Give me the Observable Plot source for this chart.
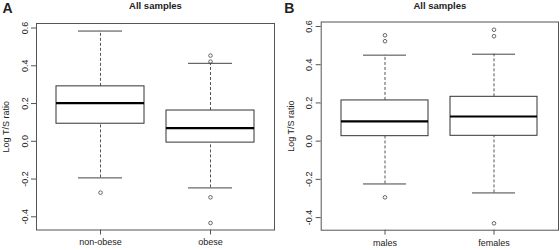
<!DOCTYPE html>
<html>
<head>
<meta charset="utf-8">
<script src="https://cdn.jsdelivr.net/npm/d3@7"></script>
<script src="https://cdn.jsdelivr.net/npm/@observablehq/plot@0.6"></script>
<style>
  html, body { margin: 0; padding: 0; background: #fff; }
  #wrap { position: relative; width: 560px; height: 250px; overflow: hidden; }
  #wrap > div { position: absolute; top: 0; }
  #pa { left: 0; } #pb { left: 280px; }
</style>
</head>
<body>
<div id="wrap"><div id="pa"></div><div id="pb"></div></div>
<script>
// ---- Panel A data (boxplot statistics, Log T/S ratio) ----
const catsA   = ["non-obese", "obese"];
const lowA    = [-0.194, -0.247];
const q1A     = [0.093, -0.007];
const medA    = [0.202, 0.070];
const q3A     = [0.291, 0.163];
const highA   = [0.584, 0.413];
const outCatA = ["non-obese", "obese", "obese", "obese", "obese"];
const outValA = [-0.272, 0.454, 0.422, -0.297, -0.433];

// ---- Panel B data ----
const catsB   = ["males", "females"];
const lowB    = [-0.224, -0.271];
const q1B     = [0.026, 0.028];
const medB    = [0.103, 0.129];
const q3B     = [0.213, 0.232];
const highB   = [0.450, 0.455];
const outCatB = ["males", "males", "males", "females", "females", "females"];
const outValB = [0.554, 0.523, -0.294, 0.583, 0.549, -0.430];

const yTicks = [-0.4, -0.2, 0.0, 0.2, 0.4, 0.6];
const titleText = "All samples";
const yLabel = "Log T/S ratio";

function panel(o) {
  const stats = o.cats.map((c, i) => ({cat: c, lo: o.lo[i], q1: o.q1[i], med: o.med[i], q3: o.q3[i], hi: o.hi[i]}));
  const outs = o.outCat.map((c, i) => ({cat: c, v: o.outVal[i]}));
  return Plot.plot({
    width: 280, height: 250,
    marginLeft: o.m[0], marginRight: o.m[1], marginTop: o.m[2], marginBottom: o.m[3],
    style: {fontFamily: "'Liberation Sans', Arial, Helvetica, sans-serif", fontSize: "9px", background: "#fff", color: "#222"},
    x: {type: "band", domain: o.cats, paddingInner: 0.2, paddingOuter: 0.18},
    y: {domain: o.domain},
    marks: [
      Plot.ruleX(stats, {x: "cat", y1: "q3", y2: "hi", stroke: "#555", strokeDasharray: "3,2"}),
      Plot.ruleX(stats, {x: "cat", y1: "lo", y2: "q1", stroke: "#555", strokeDasharray: "3,2"}),
      Plot.tickY(stats, {x: "cat", y: "hi", insetLeft: 22, insetRight: 22, stroke: "#444"}),
      Plot.tickY(stats, {x: "cat", y: "lo", insetLeft: 22, insetRight: 22, stroke: "#444"}),
      Plot.barY(stats, {x: "cat", y1: "q1", y2: "q3", fill: "#fff", stroke: "#333"}),
      Plot.tickY(stats, {x: "cat", y: "med", stroke: "#000", strokeWidth: 2.2}),
      Plot.dot(outs, {x: "cat", y: "v", r: 1.8, stroke: "#444", fill: "none", strokeWidth: 0.8}),
      Plot.frame({stroke: "#555"}),
      Plot.axisX({tickSize: 5, tickPadding: 4, fontSize: 9, label: null, stroke: "#555"}),
      Plot.axisY({ticks: yTicks, tickSize: 5, tickPadding: 4, tickFormat: d => d.toFixed(1), tickRotate: -90,
                  textAnchor: "middle", lineAnchor: "bottom", fontSize: 9, label: null, stroke: "#555"}),
      Plot.text([yLabel], {text: d => d, frameAnchor: "left", dx: -30, rotate: -90, fontSize: 9, lineAnchor: "middle", textAnchor: "middle"}),
      Plot.text([titleText], {text: d => d, frameAnchor: "top", dy: o.titleDy, fontSize: 9.5, fontWeight: "bold", lineAnchor: "middle"}),
      Plot.text([o.letter], {text: d => d, frameAnchor: "top-left", dx: o.letterDx, dy: o.letterDy, fontSize: 14, fontWeight: "bold", textAnchor: "middle", lineAnchor: "middle"})
    ]
  });
}

document.getElementById("pa").append(panel({
  cats: catsA, lo: lowA, q1: q1A, med: medA, q3: q3A, hi: highA, outCat: outCatA, outVal: outValA,
  domain: [-0.470, 0.624], m: [36, 6, 23, 20.5], letter: "A", letterDx: -29, letterDy: -14.5, titleDy: -18
}));
document.getElementById("pb").append(panel({
  cats: catsB, lo: lowB, q1: q1B, med: medB, q3: q3B, hi: highB, outCat: outCatB, outVal: outValB,
  domain: [-0.466, 0.6235], m: [40.7, 2, 21.5, 20.3], letter: "B", letterDx: -32, letterDy: -13, titleDy: -16.5
}));
</script>
</body>
</html>
